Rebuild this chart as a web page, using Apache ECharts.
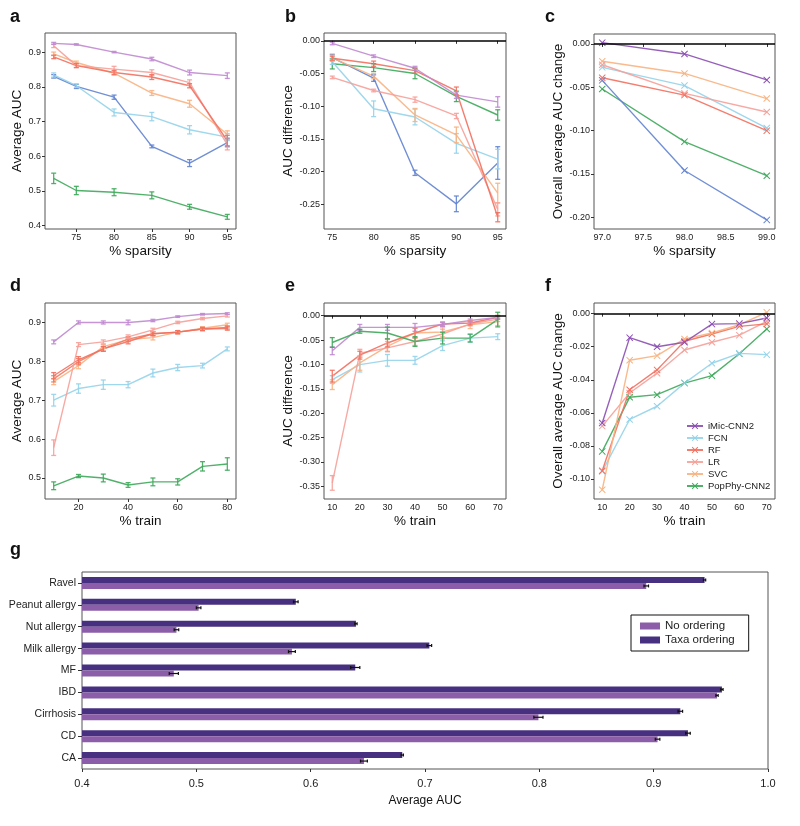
<!DOCTYPE html>
<html><head><meta charset="utf-8">
<script src="https://cdn.jsdelivr.net/npm/echarts@6/dist/echarts.min.js"></script>
<style>html,body{margin:0;padding:0;background:#fff}#c{width:800px;height:826px}</style>
</head><body><div id="c"></div>
<script>
// ---------- Panel a: Average AUC vs % sparsity ----------
const aX = [72, 75, 80, 85, 90, 95];
const aIMic = [0.925, 0.922, 0.900, 0.880, 0.841, 0.832];
const aIMicErr = [0.003, 0.002, 0.002, 0.005, 0.007, 0.008];
const aFCN = [0.834, 0.803, 0.726, 0.714, 0.676, 0.655];
const aFCNErr = [0.006, 0.005, 0.010, 0.012, 0.012, 0.010];
const aRF = [0.886, 0.861, 0.841, 0.828, 0.803, 0.645];
const aRFErr = [0.005, 0.006, 0.006, 0.007, 0.006, 0.015];
const aLR = [0.918, 0.861, 0.851, 0.841, 0.812, 0.633];
const aLRErr = [0.005, 0.005, 0.008, 0.008, 0.008, 0.015];
const aSVC = [0.895, 0.870, 0.839, 0.782, 0.751, 0.663];
const aSVCErr = [0.005, 0.004, 0.005, 0.007, 0.010, 0.010];
const aBlue = [0.830, 0.801, 0.770, 0.628, 0.580, 0.639];
const aBlueErr = [0.005, 0.006, 0.006, 0.004, 0.010, 0.012];
const aPop = [0.536, 0.501, 0.496, 0.487, 0.454, 0.425];
const aPopErr = [0.015, 0.012, 0.010, 0.010, 0.007, 0.007];
const aYTicks = [0.4, 0.5, 0.6, 0.7, 0.8, 0.9];
const aXTicks = [75, 80, 85, 90, 95];

// ---------- Panel b: AUC difference vs % sparsity ----------
const bX = [75, 80, 85, 90, 95];
const bIMic = [-0.004, -0.0235, -0.042, -0.083, -0.0935];
const bIMicErr = [0.002, 0.002, 0.003, 0.005, 0.008];
const bFCN = [-0.032, -0.104, -0.1166, -0.157, -0.181];
const bFCNErr = [0.004, 0.012, 0.012, 0.015, 0.015];
const bRF = [-0.0266, -0.035, -0.0455, -0.0767, -0.270];
const bRFErr = [0.003, 0.004, 0.004, 0.006, 0.007];
const bLR = [-0.056, -0.076, -0.090, -0.115, -0.258];
const bLRErr = [0.002, 0.002, 0.004, 0.004, 0.010];
const bSVC = [-0.026, -0.054, -0.1135, -0.144, -0.233];
const bSVCErr = [0.004, 0.004, 0.010, 0.012, 0.015];
const bBlue = [-0.0256, -0.057, -0.202, -0.2495, -0.187];
const bBlueErr = [0.005, 0.005, 0.004, 0.012, 0.025];
const bPop = [-0.035, -0.041, -0.050, -0.085, -0.1135];
const bPopErr = [0.008, 0.006, 0.008, 0.008, 0.008];
const bYTicks = [0, -0.05, -0.10, -0.15, -0.20, -0.25];
const bXTicks = [75, 80, 85, 90, 95];

// ---------- Panel c: Overall average AUC change vs % sparsity ----------
const cX = [97, 98, 99];
const cIMic = [0.0015, -0.0115, -0.0415];
const cFCN = [-0.027, -0.048, -0.097];
const cRF = [-0.039, -0.059, -0.100];
const cLR = [-0.024, -0.057, -0.0785];
const cSVC = [-0.020, -0.034, -0.063];
const cBlue = [-0.042, -0.146, -0.203];
const cPop = [-0.052, -0.1127, -0.152];
const cYTicks = [0, -0.05, -0.10, -0.15, -0.20];
const cXTicks = [97.0, 97.5, 98.0, 98.5, 99.0];

// ---------- Panel d: Average AUC vs % train ----------
const dX = [10, 20, 30, 40, 50, 60, 70, 80];
const dIMic = [0.850, 0.900, 0.900, 0.900, 0.905, 0.915, 0.921, 0.923];
const dIMicErr = [0.005, 0.004, 0.004, 0.006, 0.003, 0.002, 0.002, 0.002];
const dFCN = [0.700, 0.730, 0.740, 0.740, 0.770, 0.784, 0.789, 0.832];
const dFCNErr = [0.015, 0.012, 0.012, 0.008, 0.010, 0.008, 0.006, 0.005];
const dRF = [0.763, 0.804, 0.832, 0.851, 0.871, 0.875, 0.883, 0.887];
const dRFErr = [0.008, 0.008, 0.006, 0.006, 0.005, 0.004, 0.004, 0.004];
const dRF2 = [0.755, 0.799, 0.832, 0.857, 0.871, 0.875, 0.883, 0.884];
const dRF2Err = [0.008, 0.008, 0.006, 0.006, 0.005, 0.004, 0.004, 0.004];
const dLR = [0.578, 0.843, 0.850, 0.863, 0.881, 0.900, 0.910, 0.917];
const dLRErr = [0.020, 0.005, 0.005, 0.005, 0.004, 0.003, 0.003, 0.003];
const dSVC = [0.748, 0.789, 0.838, 0.856, 0.861, 0.875, 0.885, 0.894];
const dSVCErr = [0.008, 0.008, 0.005, 0.005, 0.006, 0.004, 0.004, 0.004];
const dPop = [0.480, 0.505, 0.500, 0.482, 0.490, 0.490, 0.530, 0.536];
const dPopErr = [0.010, 0.004, 0.010, 0.006, 0.010, 0.008, 0.012, 0.016];
const dYTicks = [0.5, 0.6, 0.7, 0.8, 0.9];
const dXTicks = [20, 40, 60, 80];

// ---------- Panel e: AUC difference vs % train ----------
const eX = [10, 20, 30, 40, 50, 60, 70];
const eIMic = [-0.072, -0.024, -0.024, -0.024, -0.018, -0.010, -0.0034];
const eIMicErr = [0.008, 0.006, 0.006, 0.008, 0.004, 0.003, 0.003];
const eFCN = [-0.131, -0.1005, -0.0916, -0.0916, -0.0615, -0.046, -0.043];
const eFCNErr = [0.008, 0.015, 0.012, 0.008, 0.010, 0.008, 0.006];
const eRF = [-0.124, -0.081, -0.056, -0.0355, -0.017, -0.015, -0.0034];
const eRFErr = [0.012, 0.008, 0.008, 0.010, 0.004, 0.004, 0.004];
const eLR = [-0.343, -0.077, -0.066, -0.053, -0.0376, -0.017, -0.007];
const eLRErr = [0.015, 0.008, 0.008, 0.008, 0.010, 0.004, 0.005];
const eSVC = [-0.1415, -0.097, -0.063, -0.0355, -0.0335, -0.0185, -0.0123];
const eSVCErr = [0.010, 0.015, 0.010, 0.010, 0.010, 0.008, 0.008];
const ePop = [-0.055, -0.032, -0.0355, -0.053, -0.046, -0.046, -0.008];
const ePopErr = [0.010, 0.004, 0.012, 0.010, 0.012, 0.008, 0.015];
const eYTicks = [0, -0.05, -0.10, -0.15, -0.20, -0.25, -0.30, -0.35];
const eXTicks = [10, 20, 30, 40, 50, 60, 70];

// ---------- Panel f: Overall average AUC change vs % train ----------
const fX = [10, 20, 30, 40, 50, 60, 70];
const fIMic = [-0.0661, -0.0145, -0.0200, -0.0173, -0.0063, -0.0060, -0.0026];
const fFCN = [-0.0954, -0.0640, -0.0560, -0.0420, -0.0300, -0.0240, -0.0248];
const fRF = [-0.0950, -0.0460, -0.0340, -0.0167, -0.0123, -0.0077, -0.0062];
const fLR = [-0.0680, -0.0480, -0.0360, -0.0220, -0.0173, -0.0130, -0.0046];
const fSVC = [-0.1065, -0.0282, -0.0254, -0.0153, -0.0117, -0.0067, 0.0008];
const fPop = [-0.0833, -0.0506, -0.0490, -0.0420, -0.0375, -0.0242, -0.0093];
const fYTicks = [0, -0.02, -0.04, -0.06, -0.08, -0.10];
const fXTicks = [10, 20, 30, 40, 50, 60, 70];
const legendNames = ['iMic-CNN2', 'FCN', 'RF', 'LR', 'SVC', 'PopPhy-CNN2'];

// ---------- Panel g: bars ----------
const gCats = ['Ravel', 'Peanut allergy', 'Nut allergy', 'Milk allergy', 'MF', 'IBD', 'Cirrhosis', 'CD', 'CA'];
const gNoOrder = [0.8935, 0.502, 0.4826, 0.5836, 0.4803, 0.9554, 0.7992, 0.9034, 0.6466];
const gNoOrderErr = [0.002, 0.002, 0.002, 0.003, 0.004, 0.001, 0.004, 0.002, 0.003];
const gTaxa = [0.9445, 0.587, 0.6396, 0.7038, 0.639, 0.9597, 0.9233, 0.930, 0.6801];
const gTaxaErr = [0.001, 0.002, 0.001, 0.002, 0.004, 0.001, 0.002, 0.002, 0.001];
const gXTicks = [0.4, 0.5, 0.6, 0.7, 0.8, 0.9, 1.0];

// ---------- styling ----------
const COL = {
  imic: '#c08ad0', imicDark: '#8b4fb3', fcn: '#95d3ea', rf: '#f2705f', rf2: '#ee7a62',
  lr: '#f6a099', svc: '#f8b382', pop: '#3ea95b', blue: '#6283d0'
};
const FONT = '"Liberation Sans", Arial, sans-serif';
const XSYM = 'path://M0,1 L1,0 L5,4 L9,0 L10,1 L6,5 L10,9 L9,10 L5,6 L1,10 L0,9 L4,5 Z';

const grids = [
  {left: 45, top: 33, width: 191, height: 196},
  {left: 324, top: 33, width: 182, height: 196},
  {left: 594, top: 34, width: 181, height: 195},
  {left: 45, top: 303, width: 191, height: 196},
  {left: 324, top: 303, width: 182, height: 196},
  {left: 594, top: 303, width: 181, height: 196},
  {left: 82, top: 572, width: 686, height: 197}
].map(g => Object.assign({show: true, borderColor: '#555', borderWidth: 1, backgroundColor: 'transparent', containLabel: false}, g));

const xAxes = [], yAxes = [], series = [];

function fmt(d) { return v => (Math.abs(v) < 1e-9 ? 0 : v).toFixed(d); }

function valueAxis(gi, min, max, ticks, dec, name, nameGap) {
  return {
    type: 'value', gridIndex: gi, min: min, max: max,
    name: name, nameLocation: 'middle', nameGap: nameGap,
    nameTextStyle: {fontFamily: FONT, fontSize: 13.5, color: '#111'},
    splitLine: {show: false},
    axisLine: {show: false},
    axisTick: {show: true, inside: false, length: 3, lineStyle: {color: '#333'}, customValues: ticks},
    axisLabel: {show: true, fontFamily: FONT, fontSize: 9, color: '#222', margin: 4,
      customValues: ticks, formatter: fmt(dec), showMinLabel: true, showMaxLabel: true}
  };
}

function addLine(gi, xs, ys, color, opts) {
  opts = opts || {};
  const s = {
    type: 'line', xAxisIndex: gi, yAxisIndex: gi,
    data: xs.map((x, i) => [x, ys[i]]),
    lineStyle: {color: color, width: 1.4, opacity: opts.opacity || 0.9},
    itemStyle: {color: color},
    symbol: opts.marker ? XSYM : 'none', symbolSize: 7,
    animation: false, z: 3
  };
  if (opts.name) s.name = opts.name;
  if (opts.zero) {
    s.markLine = {silent: true, symbol: ['none', 'none'], label: {show: false},
      lineStyle: {color: '#000', width: 1.6, type: 'solid'}, data: [{yAxis: 0}], animation: false};
  }
  series.push(s);
  if (opts.err) {
    const errs = opts.err;
    series.push({
      type: 'custom', xAxisIndex: gi, yAxisIndex: gi, animation: false, z: 4,
      data: xs.map((x, i) => [x, ys[i], errs[i]]),
      renderItem: function (params, api) {
        const x = api.value(0), y = api.value(1), e = api.value(2);
        const lo = api.coord([x, y - e]), hi = api.coord([x, y + e]);
        const st = {stroke: color, lineWidth: 1.3, opacity: 0.9};
        return {type: 'group', children: [
          {type: 'line', shape: {x1: lo[0], y1: lo[1], x2: hi[0], y2: hi[1]}, style: st},
          {type: 'line', shape: {x1: lo[0] - 2.5, y1: lo[1], x2: lo[0] + 2.5, y2: lo[1]}, style: st},
          {type: 'line', shape: {x1: hi[0] - 2.5, y1: hi[1], x2: hi[0] + 2.5, y2: hi[1]}, style: st}
        ]};
      }
    });
  }
}

// Panel a
xAxes.push(valueAxis(0, 70.85, 96.15, aXTicks, 0, '% sparsity', 15));
yAxes.push(valueAxis(0, 0.39, 0.955, aYTicks, 1, 'Average AUC', 21));
addLine(0, aX, aPop, COL.pop, {err: aPopErr});
addLine(0, aX, aBlue, COL.blue, {err: aBlueErr});
addLine(0, aX, aFCN, COL.fcn, {err: aFCNErr});
addLine(0, aX, aSVC, COL.svc, {err: aSVCErr});
addLine(0, aX, aLR, COL.lr, {err: aLRErr});
addLine(0, aX, aRF, COL.rf, {err: aRFErr});
addLine(0, aX, aIMic, COL.imic, {err: aIMicErr});

// Panel b
xAxes.push(valueAxis(1, 74, 96, bXTicks, 0, '% sparsity', 15));
yAxes.push(valueAxis(1, -0.288, 0.012, bYTicks, 2, 'AUC difference', 29));
addLine(1, bX, bPop, COL.pop, {err: bPopErr, zero: true});
addLine(1, bX, bBlue, COL.blue, {err: bBlueErr});
addLine(1, bX, bFCN, COL.fcn, {err: bFCNErr});
addLine(1, bX, bSVC, COL.svc, {err: bSVCErr});
addLine(1, bX, bLR, COL.lr, {err: bLRErr});
addLine(1, bX, bRF, COL.rf, {err: bRFErr});
addLine(1, bX, bIMic, COL.imic, {err: bIMicErr});

// Panel c
xAxes.push(valueAxis(2, 96.9, 99.1, cXTicks, 1, '% sparsity', 15));
yAxes.push(valueAxis(2, -0.2135, 0.0115, cYTicks, 2, 'Overall average AUC change', 28));
addLine(2, cX, cPop, COL.pop, {marker: true, zero: true});
addLine(2, cX, cBlue, COL.blue, {marker: true});
addLine(2, cX, cFCN, COL.fcn, {marker: true});
addLine(2, cX, cSVC, COL.svc, {marker: true});
addLine(2, cX, cLR, COL.lr, {marker: true});
addLine(2, cX, cRF, COL.rf, {marker: true});
addLine(2, cX, cIMic, COL.imicDark, {marker: true});

// Panel d
xAxes.push(valueAxis(3, 6.5, 83.5, dXTicks, 0, '% train', 15));
yAxes.push(valueAxis(3, 0.446, 0.95, dYTicks, 1, 'Average AUC', 21));
addLine(3, dX, dPop, COL.pop, {err: dPopErr});
addLine(3, dX, dFCN, COL.fcn, {err: dFCNErr});
addLine(3, dX, dSVC, COL.svc, {err: dSVCErr});
addLine(3, dX, dRF2, COL.rf2, {err: dRF2Err});
addLine(3, dX, dRF, COL.rf, {err: dRFErr});
addLine(3, dX, dLR, COL.lr, {err: dLRErr});
addLine(3, dX, dIMic, COL.imic, {err: dIMicErr});

// Panel e
xAxes.push(valueAxis(4, 7, 73, eXTicks, 0, '% train', 15));
yAxes.push(valueAxis(4, -0.376, 0.026, eYTicks, 2, 'AUC difference', 29));
addLine(4, eX, eFCN, COL.fcn, {err: eFCNErr, zero: true});
addLine(4, eX, eSVC, COL.svc, {err: eSVCErr});
addLine(4, eX, eLR, COL.lr, {err: eLRErr});
addLine(4, eX, eRF, COL.rf, {err: eRFErr});
addLine(4, eX, eIMic, COL.imic, {err: eIMicErr});
addLine(4, eX, ePop, COL.pop, {err: ePopErr});

// Panel f
xAxes.push(valueAxis(5, 7, 73, fXTicks, 0, '% train', 15));
yAxes.push(valueAxis(5, -0.1121, 0.00645, fYTicks, 2, 'Overall average AUC change', 29));
addLine(5, fX, fPop, COL.pop, {marker: true, zero: true, name: 'PopPhy-CNN2'});
addLine(5, fX, fFCN, COL.fcn, {marker: true, name: 'FCN'});
addLine(5, fX, fLR, COL.lr, {marker: true, name: 'LR'});
addLine(5, fX, fRF, COL.rf, {marker: true, name: 'RF'});
addLine(5, fX, fSVC, COL.svc, {marker: true, name: 'SVC'});
addLine(5, fX, fIMic, COL.imicDark, {marker: true, name: 'iMic-CNN2'});

// Panel g
xAxes.push({
  type: 'value', gridIndex: 6, min: 0.4, max: 1.0,
  name: 'Average AUC', nameLocation: 'middle', nameGap: 26,
  nameTextStyle: {fontFamily: FONT, fontSize: 12, color: '#111'},
  splitLine: {show: false}, axisLine: {show: false},
  axisTick: {show: true, length: 3, lineStyle: {color: '#333'}, customValues: gXTicks},
  axisLabel: {fontFamily: FONT, fontSize: 11, color: '#222', margin: 9, customValues: gXTicks, formatter: fmt(1)}
});
yAxes.push({
  type: 'category', gridIndex: 6, data: gCats, inverse: true,
  axisLine: {show: false}, splitLine: {show: false},
  axisTick: {show: true, alignWithLabel: true, length: 4, lineStyle: {color: '#333'}},
  axisLabel: {fontFamily: FONT, fontSize: 10.5, color: '#222', margin: 6}
});
const G_NO = '#8c5ea9', G_TAXA = '#47307f';
series.push({type: 'bar', name: 'Taxa ordering', xAxisIndex: 6, yAxisIndex: 6, data: gTaxa,
  barWidth: 6, barGap: '0%', itemStyle: {color: G_TAXA}, animation: false});
series.push({type: 'bar', name: 'No ordering', xAxisIndex: 6, yAxisIndex: 6, data: gNoOrder,
  barWidth: 6, barGap: '0%', itemStyle: {color: G_NO}, animation: false});
function gErr(vals, errs, off) {
  series.push({
    type: 'custom', xAxisIndex: 6, yAxisIndex: 6, animation: false, z: 5,
    data: vals.map((v, i) => [v, i, errs[i]]),
    renderItem: function (params, api) {
      const v = api.value(0), c = api.value(1), e = api.value(2);
      const lo = api.coord([v - e, c]), hi = api.coord([v + e, c]);
      const y = lo[1] + off;
      const st = {stroke: '#111', lineWidth: 1.2};
      return {type: 'group', children: [
        {type: 'line', shape: {x1: lo[0], y1: y, x2: hi[0], y2: y}, style: st},
        {type: 'line', shape: {x1: lo[0], y1: y - 1.5, x2: lo[0], y2: y + 1.5}, style: st},
        {type: 'line', shape: {x1: hi[0], y1: y - 1.5, x2: hi[0], y2: y + 1.5}, style: st}
      ]};
    }
  });
}
gErr(gNoOrder, gNoOrderErr, 3);
gErr(gTaxa, gTaxaErr, -3);

const letters = [['a', 10, 8], ['b', 285, 8], ['c', 545, 8], ['d', 10, 277], ['e', 285, 277], ['f', 545, 277], ['g', 10, 541]];

const option = {
  backgroundColor: '#fff',
  animation: false,
  textStyle: {fontFamily: FONT},
  grid: grids, xAxis: xAxes, yAxis: yAxes, series: series,
  legend: [
    {
      data: legendNames, left: 684, top: 419, orient: 'vertical',
      itemWidth: 16, itemHeight: 8, itemGap: 2, selectedMode: false, padding: 2,
      textStyle: {fontFamily: FONT, fontSize: 9.5, color: '#222'}
    },
    {
      data: ['No ordering', 'Taxa ordering'], left: 631, top: 615, orient: 'vertical',
      icon: 'rect', itemWidth: 20, itemHeight: 7, itemGap: 2, selectedMode: false,
      padding: [5, 14, 5, 9], borderColor: '#111', borderWidth: 1, borderRadius: 0,
      textStyle: {fontFamily: FONT, fontSize: 11.5, color: '#222'}
    }
  ],
  graphic: letters.map(l => ({type: 'text', left: l[1], top: l[2],
    style: {text: l[0], fontFamily: FONT, fontSize: 18, fontWeight: 'bold', fill: '#111'}}))
};
const chart = echarts.init(document.getElementById('c'), null, {renderer: 'canvas'});
chart.setOption(option);
</script></body></html>
